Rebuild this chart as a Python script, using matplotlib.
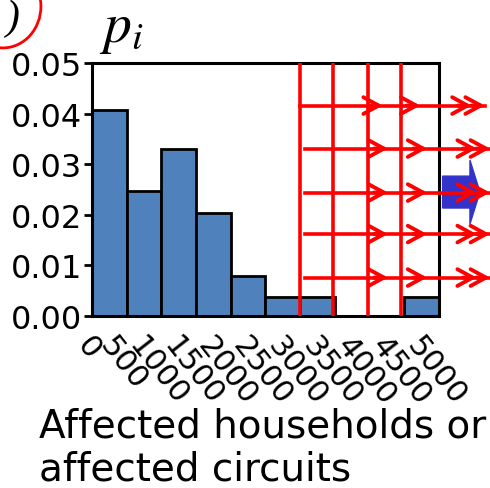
import numpy as np
import matplotlib
matplotlib.use("Agg")
import matplotlib.pyplot as plt
from matplotlib.patches import Ellipse, FancyArrow
from matplotlib.transforms import ScaledTranslation

plt.rcParams['font.family'] = ['DejaVu Sans']
plt.rcParams['mathtext.fontset'] = 'stix'

# histogram of affected households (bin width 500)
bin_edges = [0, 500, 1000, 1500, 2000, 2500, 3000, 3500, 4000, 4500, 5000]
p_i = [0.0407, 0.0248, 0.0330, 0.0204, 0.0080, 0.0037, 0.0037, 0.0, 0.0, 0.0037]
tick_labels = ['0', '500', '1000', '1500', '2000', '2500', '3000', '3500',
               '4000', '4500', '5000']

# red overlay: vertical thresholds and right-pointing arrows
red_vlines = [3000, 3470, 3980, 4460]
arrow_levels = [0.0416, 0.0331, 0.0244, 0.0162, 0.0076]
arrow_start = [3000, 3070, 3070, 3070, 3070]
arrow_end = [5660, 5735, 5735, 5735, 5735]
chevrons = [[4190, 4730, 5470, 5660],
            [4265, 4830, 5545, 5735],
            [4265, 4830, 5545, 5735],
            [4265, 4830, 5545, 5735],
            [4265, 4830, 5545, 5735]]

red = '#ff0000'
bar_col = '#4f81bd'

fig = plt.figure(figsize=(4.9, 4.89), dpi=100)
ax = fig.add_axes([0.1878, 0.3517, 0.708, 0.5173])

widths = np.diff(bin_edges)
ax.bar(bin_edges[:-1], p_i, width=widths, align='edge', color=bar_col,
       edgecolor='black', linewidth=2, zorder=2)

ax.set_xlim(0, 5000)
ax.set_ylim(0, 0.05)
ax.set_yticks([0, 0.01, 0.02, 0.03, 0.04, 0.05])
ax.set_yticklabels(['0.00', '0.01', '0.02', '0.03', '0.04', '0.05'])
ax.set_xticks(bin_edges)
ax.set_xticklabels(tick_labels, rotation=-52, ha='center', va='top')
ax.tick_params(axis='y', labelsize=23, length=6, width=2, pad=1)
ax.tick_params(axis='x', labelsize=22, length=0, pad=11)
shift = ScaledTranslation(-0.03, 0, fig.dpi_scale_trans)
for lab in ax.get_xticklabels():
    lab.set_transform(lab.get_transform() + shift)
for s in ax.spines.values():
    s.set_linewidth(2.2)

# blue block arrow outside the axes
ax.add_patch(FancyArrow(5053, 0.0245, 538, 0, width=0.0063, head_width=0.0126,
                        head_length=144, length_includes_head=True,
                        color='#3333cc', clip_on=False, zorder=3))

for x in red_vlines:
    ax.plot([x, x], [0.0003, 0.05], color=red, lw=2.6, zorder=4)
for y, x0, x1, chev in zip(arrow_levels, arrow_start, arrow_end, chevrons):
    ax.plot([x0, x1], [y, y], color=red, lw=2.6, zorder=4, clip_on=False)
    for cx in chev:
        ax.annotate('', xy=(cx, y), xytext=(cx - 200, y),
                    arrowprops=dict(arrowstyle='->,head_length=1.1,head_width=0.6',
                                    color=red, lw=2.8, shrinkA=0, shrinkB=0),
                    annotation_clip=False, zorder=4)

ax.text(0.02, 1.03, '$p_i$', transform=ax.transAxes, fontsize=40,
        ha='left', va='bottom')

# x axis title, two lines
fig.text(0.08, 0.1063, 'Affected households or', fontsize=28,
         ha='left', va='baseline')
fig.text(0.08, 0.0184, 'affected circuits', fontsize=28,
         ha='left', va='baseline')

# cropped panel label
fig.patches.append(Ellipse((0.006, 0.985), 0.155, 0.17, transform=fig.transFigure,
                           fill=False, edgecolor=red, lw=2))
fig.text(0.012, 1.0, ')', fontsize=30, style='italic', family='Liberation Serif',
         ha='left', va='top')

fig.savefig('out.png', dpi=100)
